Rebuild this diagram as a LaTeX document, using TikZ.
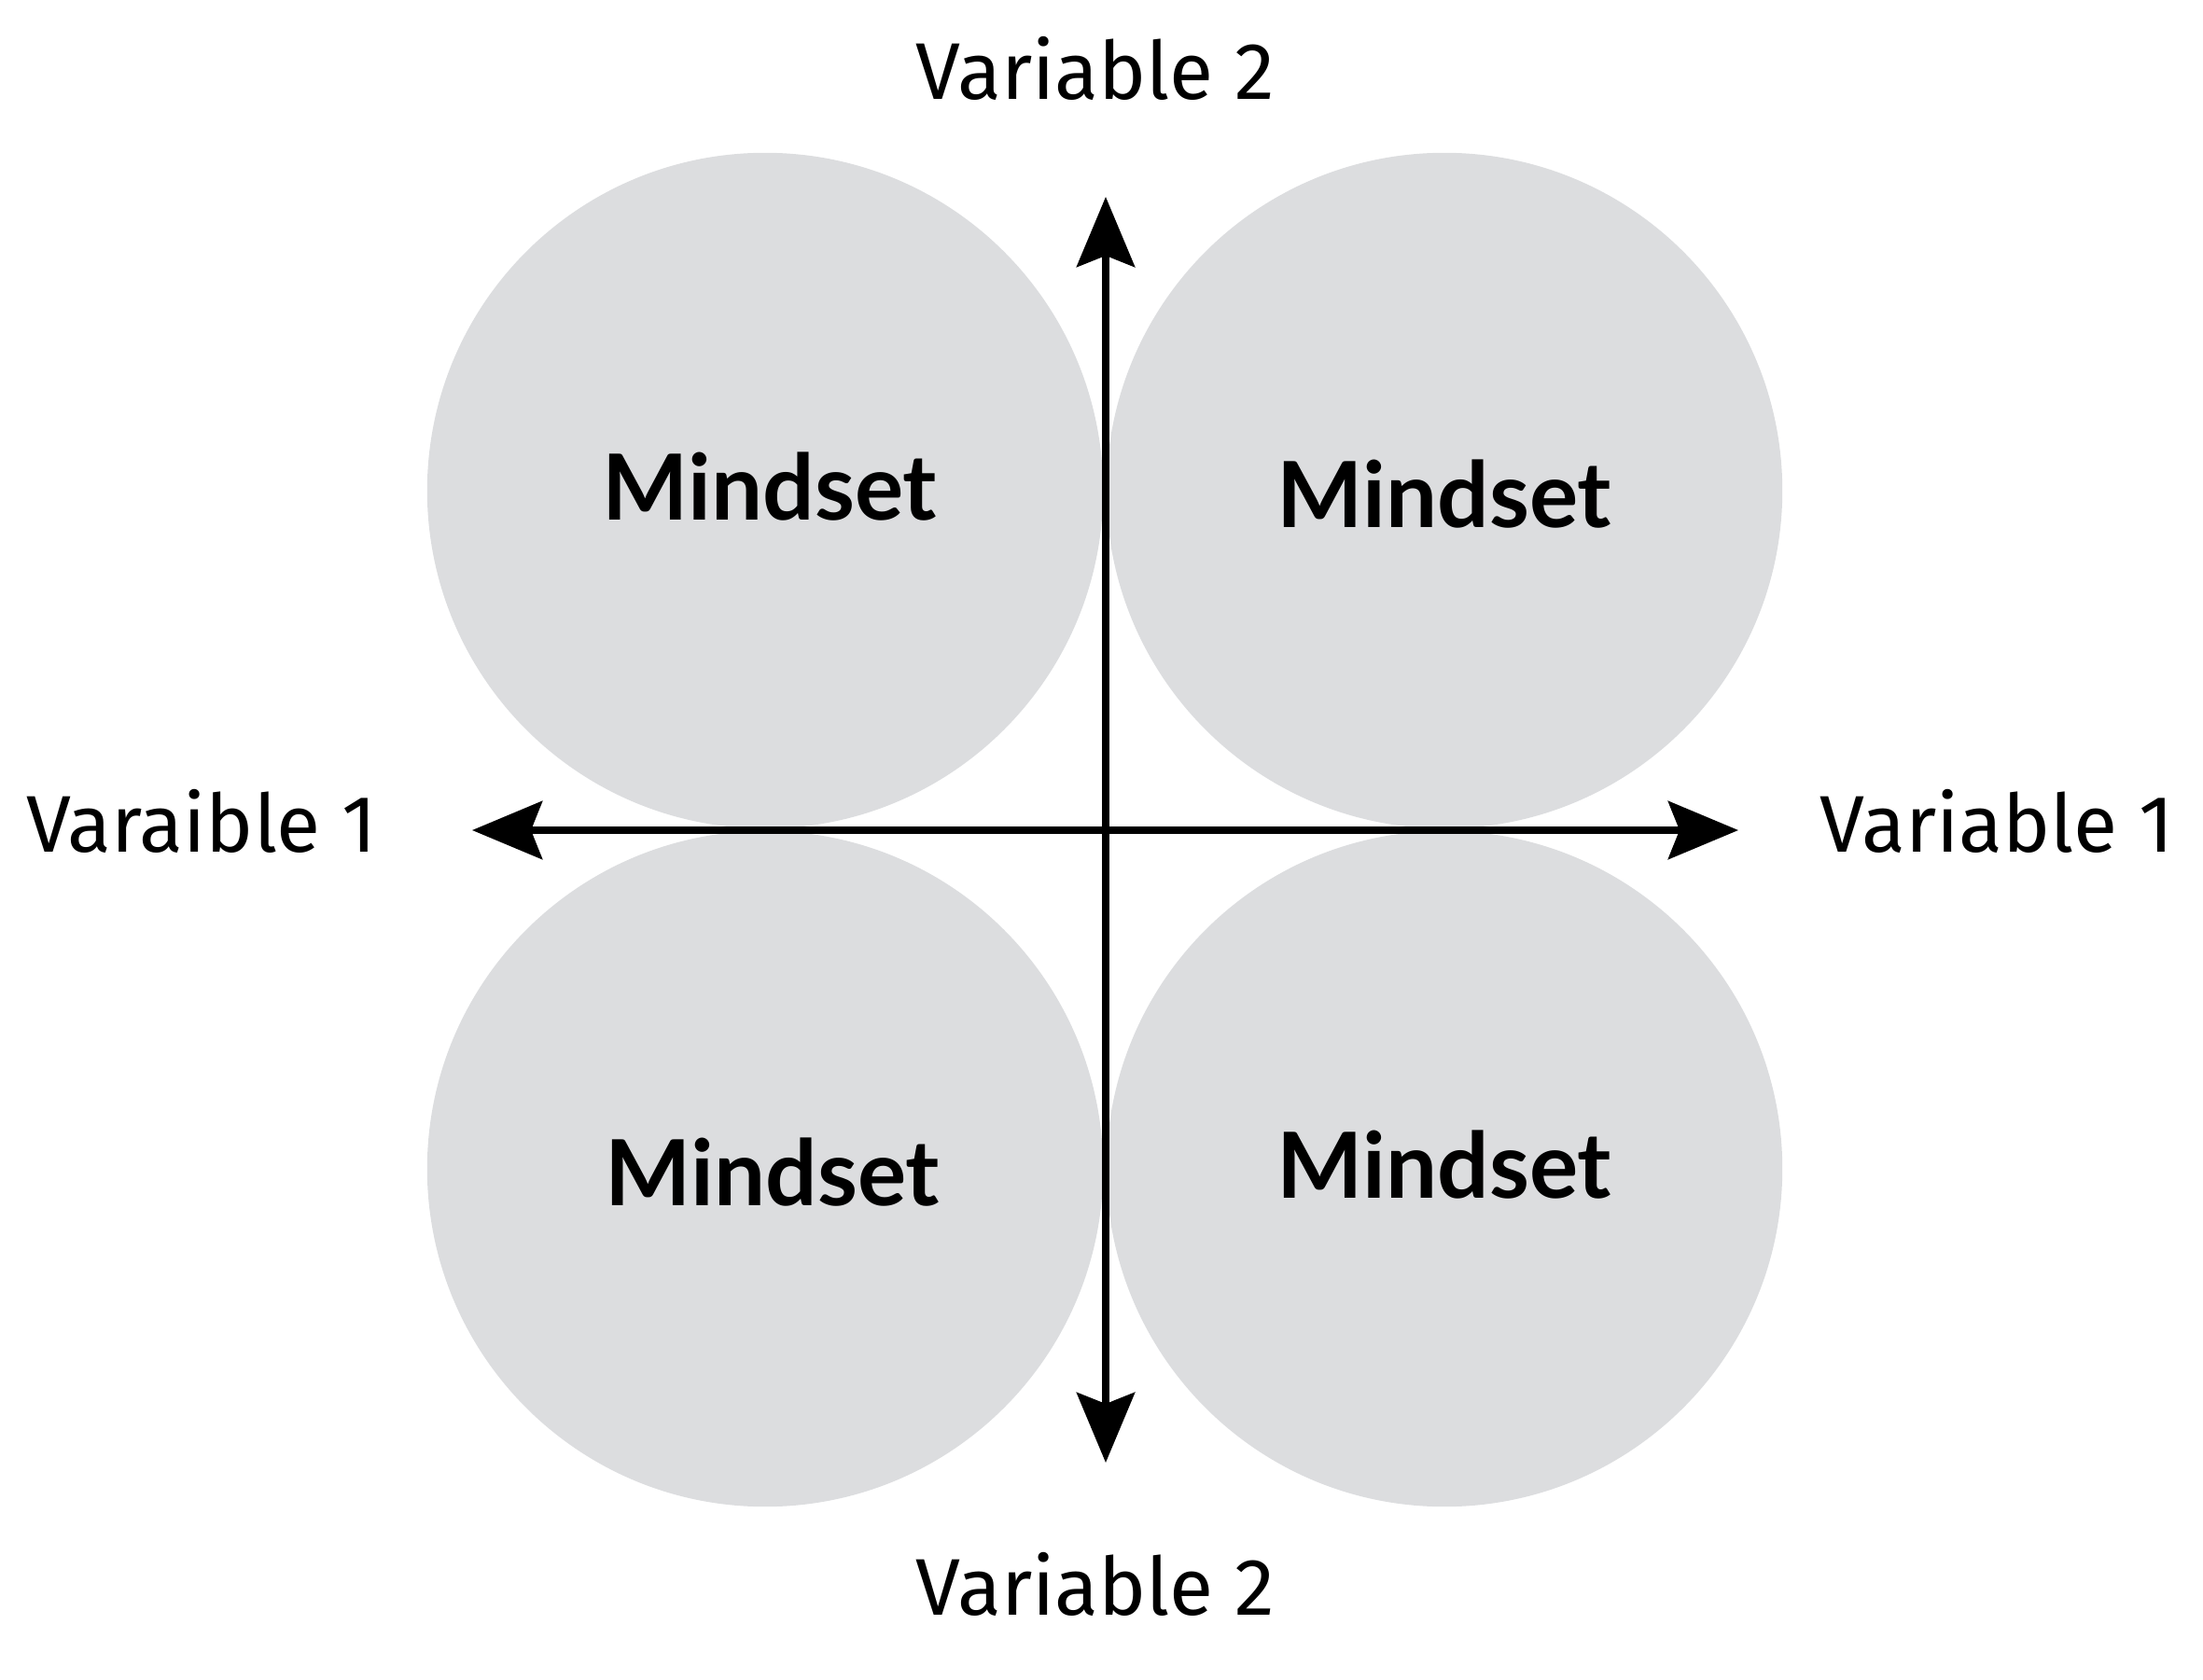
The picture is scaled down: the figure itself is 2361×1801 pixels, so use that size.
\documentclass[tikz,border=0pt]{standalone}
\usepackage{fontspec}
\setmainfont{Fira Sans}
\newfontfamily\mindfont{Lato}
\usetikzlibrary{arrows.meta}
\definecolor{circgray}{RGB}{220,221,223}
\begin{document}
\begin{tikzpicture}[x=0.01cm,y=-0.01cm,
  mindcircle/.style={circle,fill=circgray,draw=none,minimum size=7.24cm,inner sep=0pt},
  mindlabel/.style={anchor=base,inner sep=0pt,font=\mindfont\fontsize{27.8}{30}\selectfont\bfseries},
  varlabel/.style={anchor=base,inner sep=0pt,font=\fontsize{24.5}{28}\selectfont},
  axis/.style={line width=0.08cm,{Stealth[length=0.75cm,width=0.62cm,inset=0.12cm]}-{Stealth[length=0.75cm,width=0.62cm,inset=0.12cm]}}]
\useasboundingbox (0,0) rectangle (2361,1801);
\node[mindcircle] (c1) at (820,526) {};
\node[mindcircle] (c2) at (1548,526) {};
\node[mindcircle] (c3) at (820,1253) {};
\node[mindcircle] (c4) at (1548,1253) {};
\node[mindlabel] (m1) at (825,558) {Mindset};
\node[mindlabel] (m2) at (1548,566) {Mindset};
\node[mindlabel] (m3) at (828,1292) {Mindset};
\node[mindlabel] (m4) at (1548,1284) {Mindset};
\coordinate (L) at (506,890);
\coordinate (R) at (1863,890);
\coordinate (T) at (1185,211);
\coordinate (B) at (1185,1568);
\draw[axis] (L) -- (R);
\draw[axis] (T) -- (B);
\node[varlabel] (vl) at (216,913) {Varaible 1};
\node[varlabel] (vr) at (2140,913) {Variable 1};
\node[varlabel] (vt) at (1174,107) {Variable 2};
\node[varlabel] (vb) at (1174,1731) {Variable 2};
\end{tikzpicture}
\end{document}
